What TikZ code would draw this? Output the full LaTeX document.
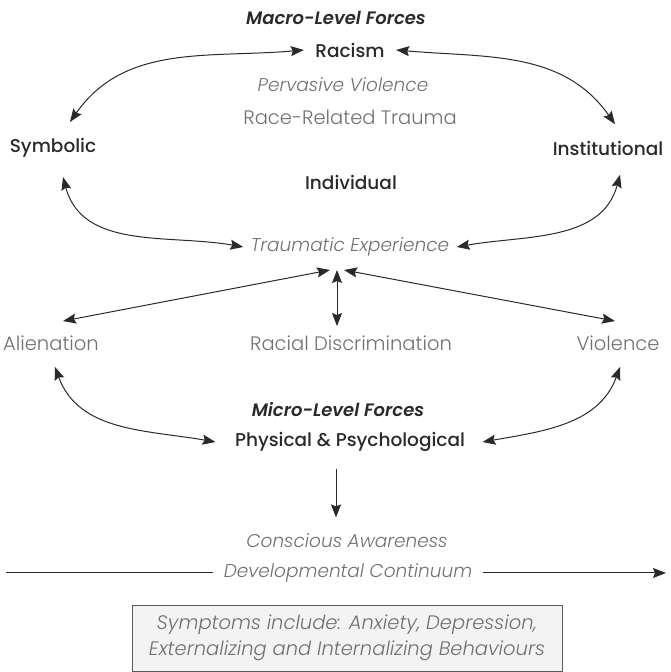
\documentclass[tikz,border=0pt]{standalone}
\usepackage{fontspec}
\setmainfont{Poppins}
\newfontfamily\poplight{Poppins Light}[ItalicFont={Poppins Light Italic}]
\newfontfamily\popmedium{Poppins Medium}[ItalicFont={Poppins SemiBold Italic}]
\usetikzlibrary{arrows.meta}
\definecolor{inkdark}{HTML}{2A2A2A}
\definecolor{inkgray}{HTML}{707070}
\definecolor{boxfill}{HTML}{F3F3F3}
\definecolor{boxline}{HTML}{5A5A5A}
\tikzset{
  heading/.style={font=\popmedium\itshape\fontsize{18}{21}\selectfont, text=inkdark},
  level/.style={font=\popmedium\fontsize{18.5}{22}\selectfont, text=inkdark},
  soft/.style={font=\poplight\fontsize{19.5}{23}\selectfont, text=inkgray},
  softit/.style={font=\poplight\itshape\fontsize{18.5}{22}\selectfont, text=inkgray},
  link/.style={<->, draw=inkdark, line width=1pt},
  flow/.style={->, draw=inkdark, line width=1pt},
  symptombox/.style={draw=boxline, fill=boxfill, line width=0.8pt, minimum width=430pt,
    minimum height=66pt, align=center, font=\poplight\itshape\fontsize{19.5}{26}\selectfont, text=inkgray}
}
\begin{document}
\begin{tikzpicture}[x=1pt,y=1pt,>={Stealth[length=13pt,width=10pt,inset=2pt]}]
        \useasboundingbox (0,0) rectangle (670,672);
        % Fuerzas macro
        \node[heading] (macro) at (336,654) {Macro-Level Forces};
        \node[level] (racism) at (350,622) {Racism};
        \node[softit] (pervasive) at (343,587) {Pervasive Violence};
        \node[soft] (related) at (350,555) {Race-Related Trauma};
        \node[level] (symbolic) at (53,524) {Symbolic};
        \node[level] (institutional) at (608,524) {Institutional};
        \node[level] (individual) at (351,490) {Individual};
        \node[softit] (traumatic) at (350,425) {Traumatic Experience};
        % Fila central
        \node[soft] (alienation) at (51,329) {Alienation};
        \node[soft] (discrimination) at (351,329) {Racial Discrimination};
        \node[soft] (violence) at (618,329) {Violence};
        % Fuerzas micro
        \node[heading] (micro) at (338,262) {Micro-Level Forces};
        \node[level] (physical) at (350,230) {Physical \& Psychological};
        \node[softit] (conscious) at (347,131) {Conscious Awareness};
        \node[softit] (developmental) at (348,99) {Developmental Continuum};
        \node[symptombox] (symptoms) at (347,34) {Symptoms include: Anxiety, Depression,\\Externalizing and Internalizing Behaviours};
        \coordinate (hub) at (337,402);
        \coordinate (devstart) at (6,99);
        \coordinate (devend) at (666,99);
        % Flechas superiores
        \draw[link] ([xshift=-8pt]racism.west) to[out=185,in=55] ([xshift=17pt,yshift=13pt]symbolic.north);
        \draw[link] ([xshift=8pt]racism.east) to[out=-5,in=125] ([xshift=7pt,yshift=13pt]institutional.north);
        \draw[link] ([xshift=10pt,yshift=-16pt]symbolic.south) to[out=-75,in=170] ([xshift=-4pt]traumatic.west);
        \draw[link] ([xshift=12pt,yshift=-16pt]institutional.south) to[out=-105,in=10] ([xshift=4pt]traumatic.east);
        % Flechas desde la experiencia
        \draw[link] ([xshift=-7pt]hub) -- ([xshift=12pt,yshift=11pt]alienation.north);
        \draw[link] (hub) -- ([xshift=-14pt,yshift=6pt]discrimination.north);
        \draw[link] ([xshift=7pt]hub) -- ([xshift=-3pt,yshift=11pt]violence.north);
        % Flechas inferiores
        \draw[link] ([xshift=4pt,yshift=-13pt]alienation.south) to[out=-70,in=170] ([xshift=-16pt]physical.west);
        \draw[link] ([xshift=2pt,yshift=-13pt]violence.south) to[out=250,in=10] ([xshift=14pt]physical.east);
        \draw[flow] ([xshift=-14pt,yshift=-14pt]physical.south) -- ([xshift=-11pt,yshift=13pt]conscious.north);
        % Continuo
        \draw[draw=inkdark, line width=1pt] (devstart) -- ([xshift=-7pt]developmental.west);
        \draw[flow] ([xshift=7pt]developmental.east) -- (devend);
\end{tikzpicture}
\end{document}
